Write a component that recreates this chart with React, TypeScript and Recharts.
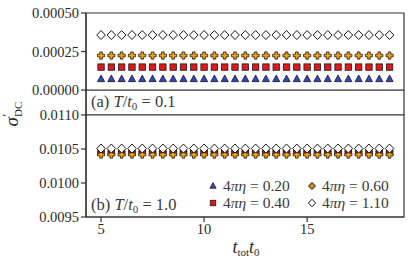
import React from "react";
import {
  ScatterChart,
  Scatter,
  XAxis,
  YAxis,
  ReferenceArea,
  ReferenceLine,
} from "recharts";

// total time t_tot * t0 (shared by both panels)
const tTot = [
  5, 5.5, 6, 6.5, 7, 7.5, 8, 8.5, 9, 9.5, 10, 10.5, 11, 11.5, 12,
  12.5, 13, 13.5, 14, 14.5, 15, 15.5, 16, 16.5, 17, 17.5, 18, 18.5, 19,
];

const etaLabels = ["0.20", "0.40", "0.60", "1.10"];

// panel (a) T/t0 = 0.1
const lowT_eta020 = [
  0.0000714, 0.0000714, 0.0000714, 0.0000714, 0.0000714, 0.0000714, 0.0000714, 0.0000714, 0.0000714, 0.0000714,
  0.0000714, 0.0000714, 0.0000714, 0.0000714, 0.0000714, 0.0000714, 0.0000714, 0.0000714, 0.0000714, 0.0000714,
  0.0000714, 0.0000714, 0.0000714, 0.0000714, 0.0000714, 0.0000714, 0.0000714, 0.0000714, 0.0000714,
];
const lowT_eta040 = [
  0.000149, 0.000149, 0.000149, 0.000149, 0.000149, 0.000149, 0.000149, 0.000149, 0.000149, 0.000149,
  0.000149, 0.000149, 0.000149, 0.000149, 0.000149, 0.000149, 0.000149, 0.000149, 0.000149, 0.000149,
  0.000149, 0.000149, 0.000149, 0.000149, 0.000149, 0.000149, 0.000149, 0.000149, 0.000149,
];
const lowT_eta060 = [
  0.000224, 0.000224, 0.000224, 0.000224, 0.000224, 0.000224, 0.000224, 0.000224, 0.000224, 0.000224,
  0.000224, 0.000224, 0.000224, 0.000224, 0.000224, 0.000224, 0.000224, 0.000224, 0.000224, 0.000224,
  0.000224, 0.000224, 0.000224, 0.000224, 0.000224, 0.000224, 0.000224, 0.000224, 0.000224,
];
const lowT_eta110 = [
  0.000357, 0.000357, 0.000357, 0.000357, 0.000357, 0.000357, 0.000357, 0.000357, 0.000357, 0.000357,
  0.000357, 0.000357, 0.000357, 0.000357, 0.000357, 0.000357, 0.000357, 0.000357, 0.000357, 0.000357,
  0.000357, 0.000357, 0.000357, 0.000357, 0.000357, 0.000357, 0.000357, 0.000357, 0.000357,
];

// panel (b) T/t0 = 1.0
const highT_eta020 = [
  0.010493, 0.010493, 0.010493, 0.010493, 0.010493, 0.010493, 0.010493, 0.010493, 0.010493, 0.010493,
  0.010493, 0.010493, 0.010493, 0.010493, 0.010493, 0.010493, 0.010493, 0.010493, 0.010493, 0.010493,
  0.010493, 0.010493, 0.010493, 0.010493, 0.010493, 0.010493, 0.010493, 0.010493, 0.010493,
];
const highT_eta040 = [
  0.010455, 0.010455, 0.010455, 0.010455, 0.010455, 0.010455, 0.010455, 0.010455, 0.010455, 0.010455,
  0.010455, 0.010455, 0.010455, 0.010455, 0.010455, 0.010455, 0.010455, 0.010455, 0.010455, 0.010455,
  0.010455, 0.010455, 0.010455, 0.010455, 0.010455, 0.010455, 0.010455, 0.010455, 0.010455,
];
const highT_eta060 = [
  0.010418, 0.010418, 0.010418, 0.010418, 0.010418, 0.010418, 0.010418, 0.010418, 0.010418, 0.010418,
  0.010418, 0.010418, 0.010418, 0.010418, 0.010418, 0.010418, 0.010418, 0.010418, 0.010418, 0.010418,
  0.010418, 0.010418, 0.010418, 0.010418, 0.010418, 0.010418, 0.010418, 0.010418, 0.010418,
];
const highT_eta110 = [
  0.010507, 0.010507, 0.010507, 0.010507, 0.010507, 0.010507, 0.010507, 0.010507, 0.010507, 0.010507,
  0.010507, 0.010507, 0.010507, 0.010507, 0.010507, 0.010507, 0.010507, 0.010507, 0.010507, 0.010507,
  0.010507, 0.010507, 0.010507, 0.010507, 0.010507, 0.010507, 0.010507, 0.010507, 0.010507,
];

const xTicks = [5, 10, 15];
const lowTicks = [0, 0.00025, 0.0005];
const highTicks = [0.0095, 0.01, 0.0105, 0.011];

const X_DOMAIN: [number, number] = [4.27, 19.7];
const LOW_DOMAIN: [number, number] = [-0.000162, 0.0005];
const HIGH_DOMAIN: [number, number] = [0.0095, 0.011];

const FONT = "'Liberation Serif', 'DejaVu Serif', serif";
const INK = "#2a2a2a";
const EDGE = "#1a1a1a";

const toPts = (ys: number[]) => tTot.map((x, i) => ({ x, y: ys[i] }));

// marker shapes (matplotlib-ish ^, s, P, D); k scales legend markers
function Tri({ cx, cy, k = 1 }: any) {
  return (
    <polygon
      points={`${cx},${cy - 4 * k} ${cx - 3.6 * k},${cy + 2.6 * k} ${cx + 3.6 * k},${cy + 2.6 * k}`}
      fill="#3344c4"
      stroke={EDGE}
      strokeWidth={0.8}
    />
  );
}
function Sq({ cx, cy, k = 1 }: any) {
  const h = 3.2 * k;
  return <rect x={cx - h} y={cy - h} width={2 * h} height={2 * h} fill="#e3161b" stroke={EDGE} strokeWidth={0.8} />;
}
function Plus({ cx, cy, k = 1 }: any) {
  const a = 3.6 * k;
  const b = 1.3 * k;
  const d = `M${cx - b},${cy - a} H${cx + b} V${cy - b} H${cx + a} V${cy + b} H${cx + b} V${cy + a} H${cx - b} V${cy + b} H${cx - a} V${cy - b} H${cx - b} Z`;
  return <path d={d} fill="#f4a20c" stroke={EDGE} strokeWidth={0.8} />;
}
function Dia({ cx, cy, k = 1 }: any) {
  return (
    <polygon
      points={`${cx},${cy - 4.5 * k} ${cx + 4.3 * k},${cy} ${cx},${cy + 4.5 * k} ${cx - 4.3 * k},${cy}`}
      fill="#fff"
      stroke={EDGE}
      strokeWidth={1}
    />
  );
}

const shapes = [Tri, Sq, Plus, Dia];

const tickStyle = { fill: INK, fontSize: 14.5, fontFamily: FONT };
const axisLine = { stroke: "#333", strokeWidth: 1.2 };

function Eta({ v }: { v: string }) {
  return (
    <>
      4<tspan fontStyle="italic">πη</tspan> = {v}
    </>
  );
}

export default function App() {
  const lowSeries = [lowT_eta020, lowT_eta040, lowT_eta060, lowT_eta110];
  const highSeries = [highT_eta020, highT_eta040, highT_eta060, highT_eta110];

  return (
    <div style={{ position: "absolute", left: 0, top: 0, width: 411, height: 263, background: "#fff" }}>
      {/* panel (a) */}
      <div style={{ position: "absolute", left: 0, top: 0 }}>
        <ScatterChart width={411} height={115} margin={{ top: 13, right: 7, left: 0, bottom: 0 }}>
          <XAxis type="number" dataKey="x" domain={X_DOMAIN} hide allowDataOverflow />
          <YAxis
            type="number"
            dataKey="y"
            width={86}
            domain={LOW_DOMAIN}
            ticks={lowTicks}
            tickFormatter={(v) => Number(v).toFixed(5)}
            tick={tickStyle}
            tickSize={5}
            tickLine={axisLine}
            axisLine={axisLine}
            allowDataOverflow
            interval={0}
          />
          <ReferenceArea
            x1={X_DOMAIN[0]}
            x2={X_DOMAIN[1]}
            y1={LOW_DOMAIN[0]}
            y2={LOW_DOMAIN[1]}
            fill="none"
            stroke="#333"
            strokeWidth={1.2}
          />
          <ReferenceLine y={0} stroke="#333" strokeWidth={1.2} />
          {lowSeries.map((ys, i) => (
            <Scatter
              key={i}
              name={etaLabels[i]}
              data={toPts(ys)}
              shape={shapes[i]}
              isAnimationActive={false}
            />
          ))}
        </ScatterChart>
      </div>

      {/* panel (b) */}
      <div style={{ position: "absolute", left: 0, top: 0 }}>
        <ScatterChart width={411} height={263} margin={{ top: 115, right: 7, left: 0, bottom: 0 }}>
          <XAxis
            type="number"
            dataKey="x"
            domain={X_DOMAIN}
            ticks={xTicks}
            height={46}
            tick={tickStyle}
            tickSize={5}
            tickLine={axisLine}
            axisLine={axisLine}
            allowDataOverflow
            interval={0}
          />
          <YAxis
            type="number"
            dataKey="y"
            width={86}
            domain={HIGH_DOMAIN}
            ticks={highTicks}
            tickFormatter={(v) => Number(v).toFixed(4)}
            tick={tickStyle}
            tickSize={5}
            tickLine={axisLine}
            axisLine={axisLine}
            allowDataOverflow
            interval={0}
          />
          <ReferenceArea
            x1={X_DOMAIN[0]}
            x2={X_DOMAIN[1]}
            y1={HIGH_DOMAIN[0]}
            y2={HIGH_DOMAIN[1]}
            fill="none"
            stroke="#333"
            strokeWidth={1.2}
          />
          {highSeries.map((ys, i) => (
            <Scatter
              key={i}
              name={etaLabels[i]}
              data={toPts(ys)}
              shape={shapes[i]}
              isAnimationActive={false}
            />
          ))}
        </ScatterChart>
      </div>

      {/* labels and legend */}
      <svg
        width={411}
        height={263}
        style={{ position: "absolute", left: 0, top: 0, pointerEvents: "none" }}
        fontFamily={FONT}
        fill={INK}
      >
        <text x={91} y={107} fontSize={16.5} fill="#3a3a3a">
          (a) <tspan fontStyle="italic">T</tspan>/<tspan fontStyle="italic">t</tspan>
          <tspan fontSize={11} dy={3}>0</tspan>
          <tspan dy={-3}> = 0.1</tspan>
        </text>
        <text x={91} y={210} fontSize={16.5} fill="#3a3a3a">
          (b) <tspan fontStyle="italic">T</tspan>/<tspan fontStyle="italic">t</tspan>
          <tspan fontSize={11} dy={3}>0</tspan>
          <tspan dy={-3}> = 1.0</tspan>
        </text>

        {/* y label */}
        <text transform="translate(18,114) rotate(-90)" textAnchor="middle" fontSize={19}>
          <tspan fontStyle="italic">σ</tspan>
          <tspan fontSize={12} dx={0.5} dy={-7}>′</tspan>
          <tspan fontSize={11} dx={-3} dy={11}>DC</tspan>
        </text>

        {/* x label */}
        <text x={246} y={253} textAnchor="middle" fontSize={18}>
          <tspan fontStyle="italic">t</tspan>
          <tspan fontSize={11} dy={3}>tot</tspan>
          <tspan fontStyle="italic" dy={-3}>t</tspan>
          <tspan fontSize={11} dy={3}>0</tspan>
        </text>

        {/* legend */}
        {[0, 1, 2, 3].map((i) => {
          const col = i < 2 ? 0 : 1;
          const row = i % 2;
          const mx = col === 0 ? 213 : 312;
          const my = row === 0 ? 186 : 203;
          const Shape = shapes[i];
          return (
            <g key={i}>
              <Shape cx={mx} cy={my} k={0.85} />
              <text x={mx + 10} y={my + 5} fontSize={15.5} fill="#3a3a3a">
                <Eta v={etaLabels[i]} />
              </text>
            </g>
          );
        })}
      </svg>
    </div>
  );
}
